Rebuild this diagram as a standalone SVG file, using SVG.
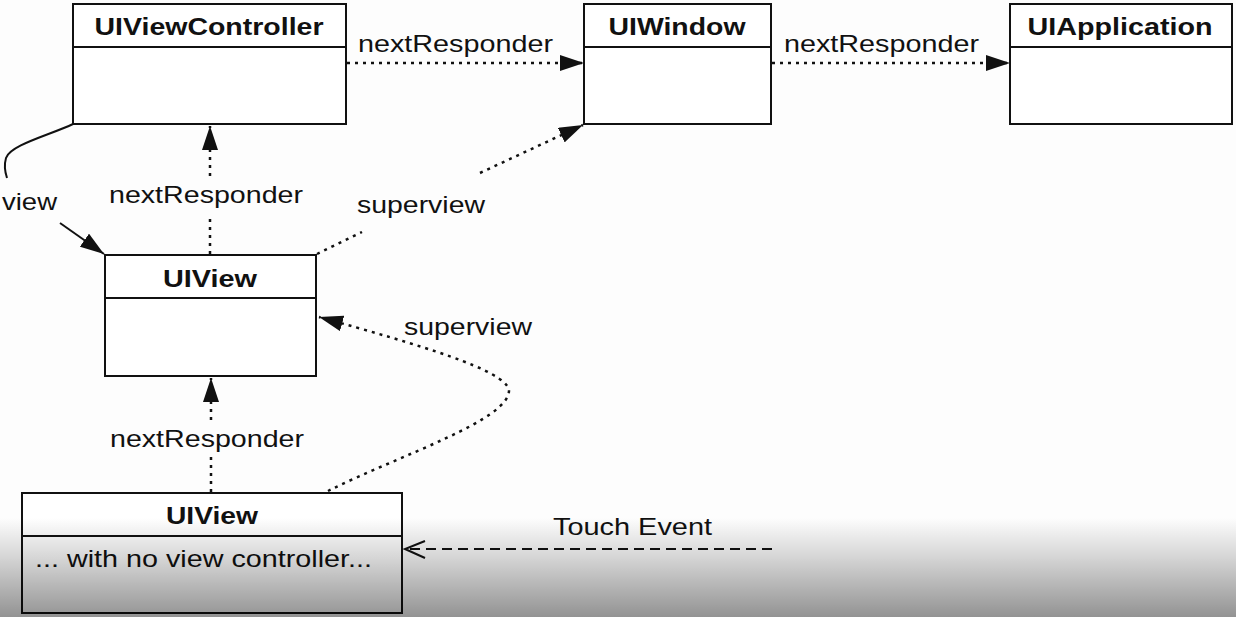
<svg xmlns="http://www.w3.org/2000/svg" width="1236" height="617" viewBox="0 0 1236 617">
<style>
.box{fill:#ffffff;stroke:#111;stroke-width:2}
.sep{stroke:#111;stroke-width:2}
.title{font-family:"Liberation Sans",Arial,Helvetica,sans-serif;font-size:24px;font-weight:bold;fill:#111;text-anchor:middle}
.lbl{font-family:"Liberation Sans",Arial,Helvetica,sans-serif;font-size:24px;fill:#111}
.dot{fill:none;stroke:#111;stroke-width:2.5;stroke-dasharray:3 5}
.solid{fill:none;stroke:#111;stroke-width:2}
.dash{fill:none;stroke:#111;stroke-width:2;stroke-dasharray:10 6}
</style>
<defs>
<marker id="tri" markerUnits="userSpaceOnUse" markerWidth="24" markerHeight="16" refX="24" refY="8" orient="auto" viewBox="0 0 24 16">
<path d="M0,0 L24,8 L0,16 z" fill="#111"/>
</marker>
<linearGradient id="shade" x1="0" y1="0" x2="0" y2="1">
<stop offset="0" stop-color="#000" stop-opacity="0"/>
<stop offset="0.4" stop-color="#000" stop-opacity="0.16"/>
<stop offset="1" stop-color="#000" stop-opacity="0.42"/>
</linearGradient>
</defs>
<rect x="0" y="0" width="1236" height="617" fill="#fdfdfd"/>

<g id="connectors">
<line class="dot" x1="347" y1="63" x2="584" y2="63" marker-end="url(#tri)"/>
<line class="dot" x1="772" y1="63" x2="1010" y2="63" marker-end="url(#tri)"/>
<line class="dot" x1="210" y1="254" x2="210" y2="214"/>
<line class="dot" x1="210" y1="176" x2="210" y2="126" marker-end="url(#tri)"/>
<line class="dot" x1="317" y1="254" x2="362" y2="232"/>
<line class="dot" x1="480" y1="173" x2="583" y2="125" marker-end="url(#tri)"/>
<path class="solid" d="M73,124 C50,135 10,145 6,158 C4,165 5,172 7,178"/>
<line class="solid" x1="60" y1="223" x2="104" y2="254" marker-end="url(#tri)"/>
<line class="dot" x1="211" y1="492" x2="211" y2="456"/>
<line class="dot" x1="211" y1="420" x2="211" y2="378" marker-end="url(#tri)"/>
<path class="dot" d="M328,491 C400,455 510,420 509,390 C505,370 420,345 319,317" marker-end="url(#tri)"/>
<line class="dash" x1="772" y1="549" x2="408" y2="549"/>
<polyline class="solid" points="425,541 405,549 425,558"/>
<text class="lbl" x="358" y="52" textLength="195" lengthAdjust="spacingAndGlyphs">nextResponder</text>
<text class="lbl" x="784" y="52" textLength="195" lengthAdjust="spacingAndGlyphs">nextResponder</text>
<text class="lbl" x="2" y="210" textLength="55" lengthAdjust="spacingAndGlyphs">view</text>
<text class="lbl" x="109" y="203" textLength="194" lengthAdjust="spacingAndGlyphs">nextResponder</text>
<text class="lbl" x="357" y="213" textLength="128" lengthAdjust="spacingAndGlyphs">superview</text>
<text class="lbl" x="404" y="335" textLength="128" lengthAdjust="spacingAndGlyphs">superview</text>
<text class="lbl" x="110" y="447" textLength="194" lengthAdjust="spacingAndGlyphs">nextResponder</text>
<text class="lbl" x="553" y="535" textLength="159" lengthAdjust="spacingAndGlyphs">Touch Event</text>
</g>

<g id="uiviewcontroller">
<rect class="box" x="73" y="4" width="273" height="120"/>
<line class="sep" x1="73" y1="47" x2="346" y2="47"/>
<text class="title" x="209" y="35" textLength="229" lengthAdjust="spacingAndGlyphs">UIViewController</text>
</g>
<g id="uiwindow">
<rect class="box" x="584" y="4" width="187" height="120"/>
<line class="sep" x1="584" y1="47" x2="771" y2="47"/>
<text class="title" x="677" y="35" textLength="137" lengthAdjust="spacingAndGlyphs">UIWindow</text>
</g>
<g id="uiapplication">
<rect class="box" x="1010" y="4" width="222" height="120"/>
<line class="sep" x1="1010" y1="47" x2="1232" y2="47"/>
<text class="title" x="1120" y="35" textLength="185" lengthAdjust="spacingAndGlyphs">UIApplication</text>
</g>
<g id="uiview1">
<rect class="box" x="105" y="255" width="211" height="121"/>
<line class="sep" x1="105" y1="298" x2="316" y2="298"/>
<text class="title" x="210" y="287" textLength="94" lengthAdjust="spacingAndGlyphs">UIView</text>
</g>
<g id="uiview2">
<rect class="box" x="22" y="493" width="380" height="120"/>
<line class="sep" x1="22" y1="536" x2="402" y2="536"/>
<text class="title" x="212" y="524" textLength="92" lengthAdjust="spacingAndGlyphs">UIView</text>
<text class="lbl" x="35" y="567" textLength="337" lengthAdjust="spacingAndGlyphs">... with no view controller...</text>
</g>

<rect x="0" y="518" width="1236" height="99" fill="url(#shade)"/>
</svg>
